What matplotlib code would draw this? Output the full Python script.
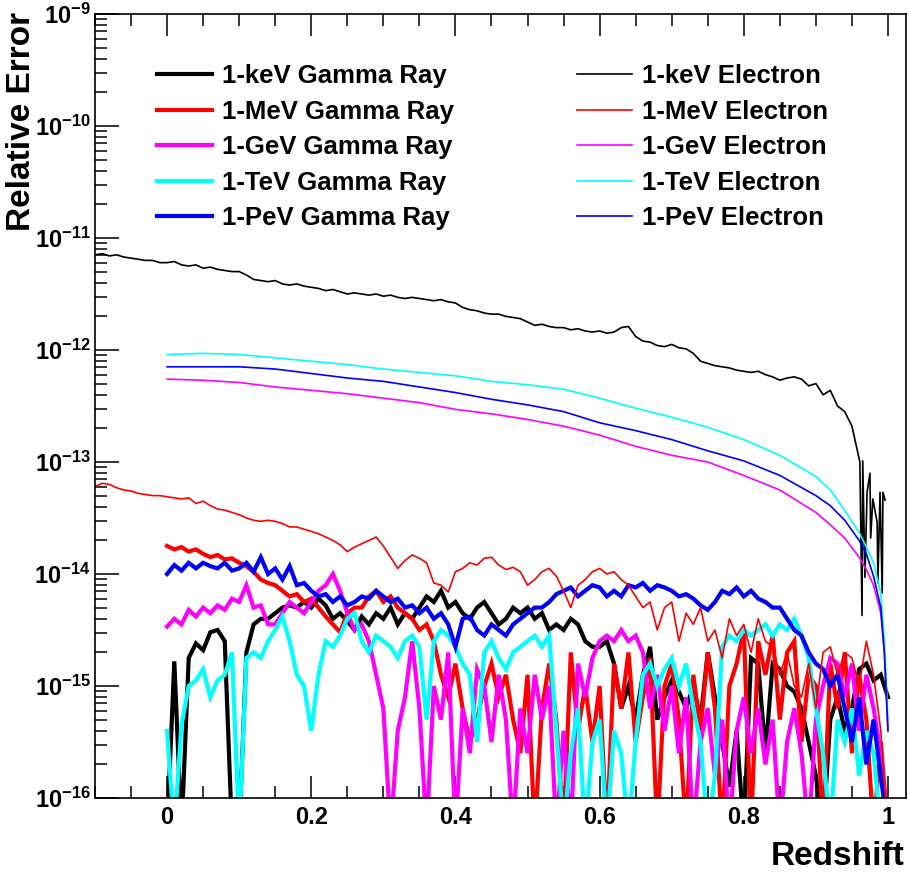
import numpy as np
import matplotlib

matplotlib.use("Agg")

import matplotlib.pyplot as plt
from matplotlib.ticker import FixedLocator, LogLocator, MultipleLocator, NullFormatter

plt.rcParams["font.family"] = ["Liberation Sans", "DejaVu Sans"]
plt.rcParams["font.weight"] = "bold"
plt.rcParams["mathtext.fontset"] = "custom"
plt.rcParams["mathtext.rm"] = "Liberation Sans:bold"
plt.rcParams["mathtext.it"] = "Liberation Sans:bold"
plt.rcParams["mathtext.bf"] = "Liberation Sans:bold"

# --- data: log10(relative error) ------------------------------------------
# gamma-ray curves, redshift bins 0.00 ... 1.00 in steps of 0.01
gamma_z = np.linspace(0.0, 1.0, 101)

kev_gamma = [
    -16.3, -14.78, -16.3, -14.75, -14.62, -14.68, -14.52, -14.5, -14.6, -16.3,
    -16.3, -14.7, -14.45, -14.4, -14.4, -14.35, -14.3, -14.28, -14.3, -14.25,
    -14.3, -14.22, -14.28, -14.4, -14.35, -14.42, -14.5, -14.38, -14.45, -14.35,
    -14.4, -14.3, -14.45, -14.35, -14.4, -14.3, -14.2, -14.25, -14.15, -14.3,
    -14.25, -14.35, -14.4, -14.3, -14.25, -14.35, -14.45, -14.4, -14.3, -14.35,
    -14.3, -14.4, -14.35, -14.5, -14.45, -14.5, -14.4, -14.45, -14.6, -14.65,
    -14.65, -14.6, -14.8, -15.2, -15.0, -15.3, -14.9, -14.65, -15.3, -15.1,
    -14.95, -15.05, -15.2, -15.0, -15.3, -14.7, -15.1, -15.5, -15.9, -15.4,
    -16.3, -14.75, -14.8, -15.6, -14.8, -14.85, -15.0, -15.05, -15.2, -15.5,
    -15.8, -16.3, -15.3, -15.1, -15.4, -15.2, -14.85, -14.8, -14.95, -14.9,
    -15.1,
]
mev_gamma = [
    -13.75, -13.78, -13.76, -13.8, -13.78, -13.82, -13.85, -13.83, -13.87, -13.86,
    -13.9, -13.93, -13.98, -14.05, -14.08, -14.1, -14.15, -14.2, -14.18, -14.25,
    -14.22, -14.3, -14.38, -14.45, -14.52, -14.35, -14.3, -14.3, -14.2, -14.15,
    -14.25, -14.2, -14.3, -14.35, -14.4, -14.5, -14.45, -14.6, -14.9, -15.1,
    -14.8, -15.2, -15.5, -15.3, -15.0, -14.8, -15.1, -14.9, -15.3, -15.6,
    -14.9, -16.3, -15.2, -14.8, -15.3, -16.3, -14.7, -15.4, -15.0, -15.5,
    -15.0, -16.3, -14.8, -15.2, -14.7, -15.5, -15.1, -14.75, -16.3, -15.0,
    -14.8, -15.3, -16.3, -14.9, -15.4, -14.7, -15.2, -16.3, -15.0, -14.8,
    -14.5, -16.3, -14.6, -14.9, -14.55, -15.3, -14.7, -14.6, -15.5, -14.9,
    -15.0, -16.3, -14.8, -15.2, -14.7, -15.6, -14.9, -15.3, -16.3, -15.5,
    -16.3,
]
gev_gamma = [
    -14.47, -14.4, -14.45, -14.32, -14.38, -14.3, -14.35, -14.28, -14.32, -14.22,
    -14.25, -14.1, -14.3, -14.28, -14.45, -14.45, -14.35, -14.25, -14.3, -14.35,
    -14.25, -14.15, -14.1, -14.0, -14.15, -14.35, -14.5, -14.45, -14.6, -14.9,
    -15.2, -16.3, -15.4, -15.1, -14.6, -15.2, -16.3, -15.0, -15.3, -14.7,
    -16.3, -15.2, -15.6, -14.85, -15.0, -15.5, -14.9, -15.3, -16.3, -15.2,
    -15.6, -14.9, -15.3, -15.0, -16.3, -15.4, -16.3, -14.8, -15.1, -14.75,
    -14.6, -14.55, -14.6, -14.5, -14.6, -14.55, -14.7, -15.2, -14.9, -15.4,
    -15.0, -15.6, -15.1, -16.3, -15.5, -15.2, -15.8, -15.3, -16.3, -15.4,
    -15.1, -15.6, -15.2, -15.7, -15.3, -16.3, -15.5, -15.2, -15.6, -16.3,
    -15.3, -15.0, -14.75, -14.8, -15.1, -14.8, -15.4, -14.9, -15.2, -15.6,
    -16.3,
]
tev_gamma = [
    -15.4, -16.3, -15.35, -15.0, -14.95, -14.85, -15.1, -14.95, -14.9, -14.7,
    -16.3, -14.75, -14.7, -14.75, -14.6, -14.5, -14.38, -14.6, -14.9, -15.0,
    -15.4, -14.9, -14.6, -14.65, -14.55, -14.4, -14.35, -14.6, -14.7, -14.55,
    -14.6, -14.65, -14.75, -14.6, -14.55, -14.65, -15.3, -14.6, -14.5, -14.55,
    -14.65, -14.8, -14.9, -15.5, -14.7, -14.6, -14.75, -14.85, -14.7, -14.65,
    -14.6, -14.55, -14.65, -14.55, -15.4, -16.3, -15.6, -15.2, -16.3, -15.5,
    -15.3, -16.3, -15.4, -15.6, -16.3, -15.5, -14.9, -14.8, -15.0, -14.85,
    -14.75, -15.0, -14.8, -15.2, -15.5, -16.3, -15.8, -14.65, -14.55, -14.6,
    -14.5, -14.55, -14.5, -14.45, -14.55, -14.45, -14.5, -14.4, -14.55, -14.75,
    -15.2, -15.6, -16.3, -15.3, -15.5, -15.2, -15.8, -15.4, -15.6, -16.3,
    -16.3,
]
pev_gamma = [
    -14.0, -13.92, -13.97, -13.9, -13.95, -13.9, -13.93, -13.95, -13.9, -13.97,
    -13.95, -13.9, -13.98, -13.85, -14.0, -13.95, -14.05, -13.93, -14.1, -14.08,
    -14.15, -14.2, -14.18, -14.25, -14.2, -14.28, -14.25, -14.2, -14.22, -14.15,
    -14.2, -14.25, -14.22, -14.3, -14.28, -14.35, -14.3, -14.4, -14.35, -14.45,
    -14.65, -14.4, -14.38, -14.5, -14.55, -14.45, -14.5, -14.55, -14.45, -14.4,
    -14.35, -14.3, -14.3, -14.25, -14.18, -14.15, -14.12, -14.2, -14.15, -14.1,
    -14.12, -14.2, -14.15, -14.2, -14.1, -14.12, -14.08, -14.15, -14.1, -14.12,
    -14.15, -14.2, -14.18, -14.22, -14.28, -14.32, -14.25, -14.15, -14.18, -14.12,
    -14.2, -14.15, -14.22, -14.25, -14.3, -14.3, -14.4, -14.5, -14.55, -14.7,
    -14.8, -14.85, -15.0, -14.9, -15.2, -15.5, -15.1, -15.7, -15.3, -15.8,
    -16.3,
]

# 1-keV and 1-MeV electrons start at z = -0.1 (steps of 0.01)
kev_electron_z = list(np.round(np.linspace(-0.10, 0.95, 106), 3)) + [
    0.961, 0.964, 0.965, 0.968, 0.971, 0.975, 0.976,
    0.979, 0.985, 0.986, 0.989, 0.992, 0.993, 0.996,
]
kev_electron = [
    -11.15, -11.14, -11.16, -11.15, -11.17, -11.18, -11.19, -11.2, -11.2, -11.22,
    -11.22, -11.21, -11.24, -11.25, -11.24, -11.27, -11.26, -11.28, -11.29, -11.3,
    -11.3, -11.33, -11.37, -11.38, -11.39, -11.38, -11.41, -11.42, -11.41, -11.43,
    -11.44, -11.45, -11.47, -11.46, -11.48, -11.5, -11.49, -11.5, -11.51, -11.5,
    -11.52, -11.51, -11.53, -11.54, -11.53, -11.54, -11.55, -11.56, -11.55, -11.57,
    -11.58, -11.62, -11.64, -11.65, -11.67, -11.68, -11.68, -11.7, -11.71, -11.72,
    -11.75, -11.78, -11.77, -11.79, -11.8, -11.8, -11.82, -11.81, -11.83, -11.84,
    -11.83, -11.85, -11.84, -11.8, -11.79, -11.88, -11.92, -11.93, -11.96, -11.97,
    -11.95, -11.98, -11.99, -12.03, -12.1, -12.12, -12.14, -12.15, -12.16, -12.18,
    -12.19, -12.2, -12.19, -12.22, -12.24, -12.27, -12.25, -12.24, -12.26, -12.32,
    -12.3, -12.4, -12.36, -12.5, -12.55, -12.68,
    -13.0, -14.37, -12.99, -14.03, -13.27, -13.1, -13.68,
    -13.33, -13.54, -14.08, -13.27, -14.17, -13.27, -13.34,
]

mev_electron_z = np.linspace(-0.10, 1.0, 111)
mev_electron = [
    -13.22, -13.19, -13.2, -13.23, -13.25, -13.26, -13.28, -13.29, -13.3, -13.3,
    -13.31, -13.32, -13.33, -13.32, -13.37, -13.35, -13.39, -13.42, -13.43, -13.45,
    -13.47, -13.5, -13.52, -13.53, -13.52, -13.53, -13.55, -13.58, -13.58, -13.6,
    -13.62, -13.64, -13.67, -13.7, -13.74, -13.8, -13.76, -13.73, -13.7, -13.67,
    -13.75, -13.85, -13.95, -13.88, -13.83, -13.86, -13.9, -14.08, -14.1, -14.16,
    -13.98, -13.95, -13.9, -13.92, -13.86, -13.85, -13.92, -13.96, -13.94, -13.98,
    -14.1, -14.05, -13.98, -13.95, -14.02, -14.15, -14.3, -14.1, -14.05, -13.98,
    -13.95, -14.0, -13.98, -14.05, -14.1, -14.2, -14.3, -14.25, -14.5, -14.3,
    -14.25, -14.6, -14.35, -14.45, -14.3, -14.6, -14.5, -14.75, -14.4, -14.55,
    -14.45, -14.7, -14.4, -14.6, -14.65, -14.9, -14.7, -15.0, -15.1, -14.8,
    -15.2, -14.7, -14.65, -14.9, -14.7, -14.75, -15.0, -14.6, -14.9, -15.4,
    -16.3,
]

# smooth GeV / TeV / PeV electron curves
electron_z = [0.0, 0.05, 0.1, 0.15, 0.2, 0.25, 0.3, 0.35, 0.4, 0.45, 0.5, 0.55, 0.6,
              0.65, 0.7, 0.75, 0.8, 0.85, 0.9, 0.92, 0.94, 0.96, 0.97, 0.98, 0.99,
              0.995, 1.0]
gev_electron = [-12.26, -12.27, -12.29, -12.33, -12.36, -12.39, -12.43, -12.47, -12.53,
                -12.57, -12.62, -12.68, -12.76, -12.86, -12.94, -13.0, -13.12, -13.25,
                -13.45, -13.56, -13.68, -13.85, -13.96, -14.1, -14.35, -14.7, -15.4]
tev_electron = [-12.04, -12.03, -12.04, -12.07, -12.1, -12.13, -12.17, -12.2, -12.23,
                -12.28, -12.31, -12.35, -12.43, -12.52, -12.6, -12.69, -12.8, -12.94,
                -13.13, -13.25, -13.43, -13.63, -13.76, -13.9, -14.17, -14.6, -15.3]
pev_electron = [-12.15, -12.15, -12.15, -12.17, -12.21, -12.25, -12.28, -12.33, -12.38,
                -12.44, -12.49, -12.55, -12.65, -12.72, -12.8, -12.9, -12.99, -13.12,
                -13.3, -13.39, -13.52, -13.7, -13.82, -14.02, -14.3, -14.7, -15.4]

energies = ["1-keV", "1-MeV", "1-GeV", "1-TeV", "1-PeV"]
colors = ["#000000", "#ff0000", "#ff00ff", "#00ffff", "#0000ff"]

# --- figure -----------------------------------------------------------------
fig = plt.figure(figsize=(9.09, 8.74), dpi=100)
ax = fig.add_axes([95 / 909, 1 - 798 / 874, (906 - 95) / 909, (798 - 14) / 874])
ax.set_yscale("log")

gamma_series = [kev_gamma, mev_gamma, gev_gamma, tev_gamma, pev_gamma]
gamma_handles = []
for name, vals, col in zip(energies, gamma_series, colors):
    (h,) = ax.plot(gamma_z, 10.0 ** np.array(vals), color=col, lw=3.0,
                   solid_joinstyle="miter", label=f"{name} Gamma Ray")
    gamma_handles.append(h)

electron_series = [
    (kev_electron_z, kev_electron),
    (mev_electron_z, mev_electron),
    (electron_z, gev_electron),
    (electron_z, tev_electron),
    (electron_z, pev_electron),
]
electron_handles = []
for name, (zz, vals), col in zip(energies, electron_series, colors):
    (h,) = ax.plot(zz, 10.0 ** np.array(vals), color=col, lw=1.2,
                   label=f"{name} Electron")
    electron_handles.append(h)

ax.set_xlim(-0.1, 1.025)
ax.set_ylim(1e-16, 1e-9)

# x axis: ROOT style ticks on bottom and top
ax.xaxis.set_major_locator(FixedLocator([0, 0.2, 0.4, 0.6, 0.8, 1.0]))
ax.set_xticklabels(["0", "0.2", "0.4", "0.6", "0.8", "1"])
ax.xaxis.set_minor_locator(MultipleLocator(0.05))
ax.tick_params(axis="x", which="both", direction="in", top=True, bottom=True,
               labelsize=17, pad=6, width=1.1)
ax.tick_params(axis="x", which="major", length=16)
ax.tick_params(axis="x", which="minor", length=8.5)

# y axis: decades labelled, minor ticks at 2..9
decades = list(range(-16, -8))
ax.yaxis.set_major_locator(FixedLocator([10.0 ** d for d in decades]))
ax.set_yticklabels([rf"$10^{{{d}}}$" for d in decades])
ax.yaxis.set_minor_locator(LogLocator(base=10, subs=np.arange(2, 10), numticks=40))
ax.yaxis.set_minor_formatter(NullFormatter())
ax.tick_params(axis="y", which="both", direction="in", left=True, right=False,
               labelsize=17, pad=3, width=1.1)
ax.tick_params(axis="y", which="major", length=17)
ax.tick_params(axis="y", which="minor", length=8.5)

for spine in ax.spines.values():
    spine.set_linewidth(1.2)

fig.text(22 / 909, 1 - 12 / 874, "Relative Error", rotation=90, ha="center",
         va="top", fontsize=24, fontweight="bold")
fig.text(905 / 909, 2 / 874, "Redshift", ha="right", va="bottom",
         fontsize=24, fontweight="bold")

legend_opts = dict(loc="upper left", bbox_transform=fig.transFigure, frameon=False,
                   fontsize=18.5, handlelength=2.14, handletextpad=0.39,
                   labelspacing=0.45, borderpad=0, borderaxespad=0)
leg1 = ax.legend(handles=gamma_handles, bbox_to_anchor=(157 / 909, 1 - 64 / 874),
                 **legend_opts)
ax.add_artist(leg1)
ax.legend(handles=electron_handles, bbox_to_anchor=(577 / 909, 1 - 64 / 874),
          **legend_opts)

fig.savefig("out.png", dpi=100)
plt.close(fig)
